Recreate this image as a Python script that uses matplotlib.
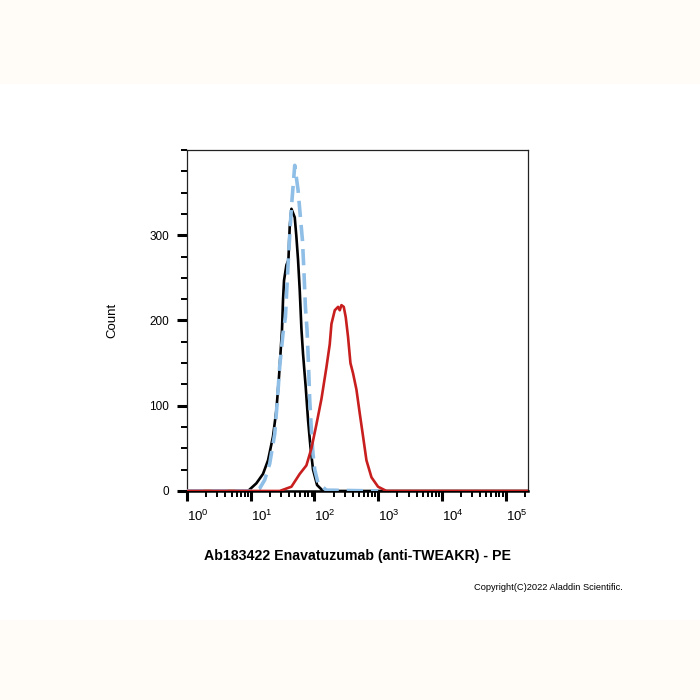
import numpy as np
import matplotlib
matplotlib.use('Agg')
from matplotlib import pyplot as plt
from matplotlib.patches import Rectangle
from matplotlib.ticker import LogLocator, MultipleLocator, NullFormatter

plt.rcParams['font.family'] = ['Liberation Sans', 'DejaVu Sans']

# histogram traces: decade position (log10 of PE) and count
black_log_x = [0.0, 0.958, 1.089, 1.193, 1.272, 1.350, 1.403, 1.444, 1.491, 1.507, 1.523,
               1.560, 1.592, 1.612, 1.639, 1.691, 1.717, 1.743, 1.769, 1.796, 1.821,
               1.863, 1.900, 1.937, 1.978, 2.041, 2.135, 5.35]
black_count = [0, 0, 9, 20, 36, 64, 95, 134, 189, 224, 247,
               265, 271, 310, 331, 321, 298, 271, 236, 190, 161,
               122, 83, 52, 25, 7, 0, 0]

blue_log_x = [0.0, 1.063, 1.141, 1.220, 1.298, 1.377, 1.419, 1.455, 1.507, 1.545, 1.570,
              1.601, 1.639, 1.691, 1.743, 1.780, 1.812, 1.832, 1.859, 1.884, 1.906,
              1.926, 1.953, 1.978, 2.005, 2.057, 2.188, 3.0]
blue_count = [0, 0, 3, 13, 32, 67, 107, 146, 185, 204, 242,
              286, 333, 382, 353, 321, 294, 263, 215, 189, 150,
              107, 70, 43, 25, 9, 1, 0]

red_log_x = [0.0, 1.455, 1.639, 1.717, 1.769, 1.874, 1.953, 2.031, 2.110, 2.188, 2.240,
             2.267, 2.319, 2.371, 2.397, 2.424, 2.460, 2.491, 2.527, 2.565, 2.606,
             2.659, 2.711, 2.763, 2.816, 2.895, 2.998, 3.130, 5.35]
red_count = [0, 0, 5, 14, 20, 30, 50, 78, 108, 145, 172,
             196, 212, 216, 212, 218, 216, 204, 181, 150, 138,
             119, 91, 64, 36, 16, 5, 0, 0]

x_decades = [0, 1, 2, 3, 4, 5]
y_ticks = [0, 100, 200, 300]

fig = plt.figure(figsize=(7, 7), dpi=100)
fig.patches.append(Rectangle((0, 0.88), 1, 0.12, transform=fig.transFigure,
                             facecolor='#fffbf7', edgecolor='none', zorder=0))
fig.patches.append(Rectangle((0, 0), 1, 0.115, transform=fig.transFigure,
                             facecolor='#fffbf7', edgecolor='none', zorder=0))

ax = fig.add_axes([0.2671, 0.2986, 0.4871, 0.4871])

ax.plot(np.power(10.0, black_log_x), black_count, color='black', lw=1.9, zorder=3,
        solid_joinstyle='round')
ax.plot(np.power(10.0, blue_log_x), blue_count, color='#8fbfe6', lw=2.6, zorder=4,
        dashes=(4.5, 2.2))
ax.plot(np.power(10.0, red_log_x), red_count, color='#c81e1e', lw=1.9, zorder=5,
        solid_joinstyle='round')

ax.set_xscale('log')
ax.set_xlim(1, 10 ** 5.35)
ax.set_ylim(0, 400)

ax.set_xticks([10.0 ** d for d in x_decades])
ax.set_xticklabels([r'$\mathregular{10^{%d}}$' % d for d in x_decades], ha='left')
ax.xaxis.set_minor_locator(LogLocator(base=10, subs=np.arange(2, 10), numticks=20))
ax.xaxis.set_minor_formatter(NullFormatter())
ax.set_yticks(y_ticks)
ax.yaxis.set_minor_locator(MultipleLocator(25))

ax.tick_params(axis='both', which='major', length=7, width=2.2, labelsize=8.5,
               color='black', direction='out')
ax.tick_params(axis='both', which='minor', length=4, width=1.4, color='black',
               direction='out')
ax.tick_params(axis='x', which='major', pad=6, labelsize=9.5)
ax.tick_params(axis='y', which='major', pad=6)

for side in ['top', 'right', 'left']:
    ax.spines[side].set_linewidth(0.9)
    ax.spines[side].set_color('#222222')
ax.spines['bottom'].set_linewidth(1.8)
ax.spines['bottom'].set_color('black')

ax.set_ylabel('Count', fontsize=9.5, labelpad=22)
fig.text(0.5107, 0.2057, 'Ab183422 Enavatuzumab (anti-TWEAKR) - PE', ha='center',
         va='center', fontsize=10.2, fontweight='bold')
fig.text(0.89, 0.16, 'Copyright(C)2022 Aladdin Scientific.', ha='right', va='center',
         fontsize=6.7)

fig.savefig('out.png', dpi=100, facecolor='white')
